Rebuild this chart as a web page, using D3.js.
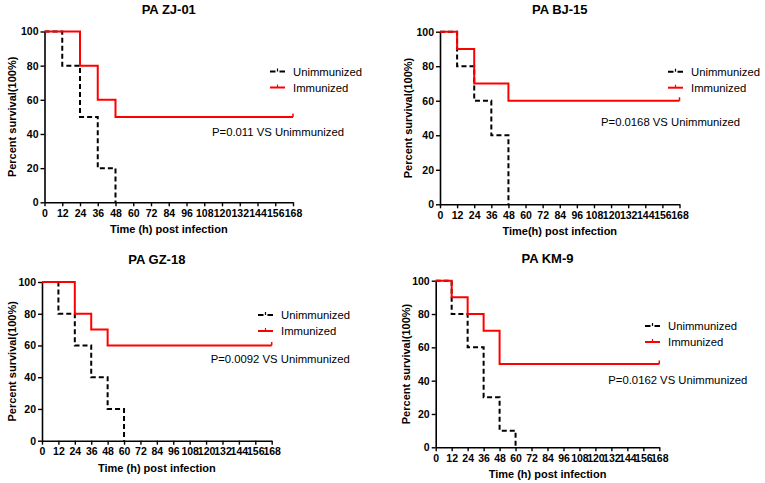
<!DOCTYPE html>
<html>
<head>
<meta charset="utf-8">
<script src="https://cdn.jsdelivr.net/npm/d3@7"></script>
<style>
  body { margin:0; background:#fff; }
  text { font-family: Arial, "Liberation Sans", sans-serif; }
</style>
</head>
<body>
<div id="plot"></div>
<script>
//chart data
var titles = ['PA ZJ-01', 'PA BJ-15', 'PA GZ-18', 'PA KM-9'];
var xTitles = ['Time (h) post infection', 'Time(h) post infection', 'Time (h) post infection', 'Time (h) post infection'];
var pTexts = ['P=0.011 VS Unimmunized', 'P=0.0168 VS Unimmunized', 'P=0.0092 VS Unimmunized', 'P=0.0162 VS Unimmunized'];
var seriesNames = ['Unimmunized', 'Immunized'];
var xTicks = [0, 12, 24, 36, 48, 60, 72, 84, 96, 108, 120, 132, 144, 156, 168];
var yTicks = [0, 20, 40, 60, 80, 100];

//[time, survival after the step]
var unimmZJ = [[0,100],[12,80],[24,50],[36,20],[48,0]];
var immZJ   = [[0,100],[24,80],[36,60],[48,50],[168,50]];
var unimmBJ = [[0,100],[12,80],[24,60],[36,40],[48,0]];
var immBJ   = [[0,100],[12,90],[24,70],[48,60],[168,60]];
var unimmGZ = [[0,100],[12,80],[24,60],[36,40],[48,20],[60,0]];
var immGZ   = [[0,100],[24,80],[36,70],[48,60],[168,60]];
var unimmKM = [[0,100],[12,80],[24,60],[36,30],[48,10],[60,0]];
var immKM   = [[0,100],[12,90],[24,80],[36,70],[48,50],[168,50]];

var unimm = [unimmZJ, unimmBJ, unimmGZ, unimmKM];
var imm = [immZJ, immBJ, immGZ, immKM];

//pixel layout of each panel (plot box, legend, p-value text)
var panels = [
  {l:44.5, r:293, t:31.5, b:202.3, lx:270, ly:71.5, px:212, py:136, yl:12},
  {l:440, r:679.5, t:31.7, b:204.3, lx:668, ly:71.7, px:601, py:126, yl:408},
  {l:42, r:271.7, t:282, b:440.7, lx:258, ly:315, px:210.7, py:363, yl:12},
  {l:435.7, r:659.3, t:280.7, b:447.3, lx:645, ly:326, px:608.3, py:384, yl:406}
];

var svg = d3.select('#plot').append('svg')
    .attr('width', 765)
    .attr('height', 483);

for (var i = 0; i < panels.length; i++){
    var p = panels[i];
    var g = svg.append('g');

    var x = d3.scaleLinear().domain([0,168]).range([p.l, p.r]);
    var y = d3.scaleLinear().domain([0,100]).range([p.b, p.t]);

    var line = d3.line()
        .x(function(d){ return x(d[0]); })
        .y(function(d){ return y(d[1]); })
        .curve(d3.curveStepAfter);

    //x axis
    var xa = g.append('g')
        .attr('transform', 'translate(0,' + p.b + ')')
        .call(d3.axisBottom(x).tickValues(xTicks).tickSize(4).tickPadding(3).tickSizeOuter(0));
    //y axis
    var ya = g.append('g')
        .attr('transform', 'translate(' + p.l + ',0)')
        .call(d3.axisLeft(y).tickValues(yTicks).tickSize(4).tickPadding(2).tickSizeOuter(0));

    [xa, ya].forEach(function(a){
        a.select('.domain').attr('stroke', '#000').attr('stroke-width', 1.6);
        a.selectAll('.tick line').attr('stroke', '#000').attr('stroke-width', 1.4);
        a.selectAll('.tick text')
            .attr('fill', '#000')
            .style('font-size', '10.5px')
            .style('font-weight', 'bold')
            .style('font-family', 'Arial, "Liberation Sans", sans-serif');
    });

    //unimmunized, dashed black
    g.append('path')
        .attr('d', line(unimm[i]))
        .attr('fill', 'none')
        .attr('stroke', '#000')
        .attr('stroke-width', 2)
        .attr('stroke-dasharray', '5,3');

    //immunized, red
    g.append('path')
        .attr('d', line(imm[i]))
        .attr('fill', 'none')
        .attr('stroke', '#f00')
        .attr('stroke-width', 2);

    //censor tick at end of immunized curve
    var last = imm[i][imm[i].length - 1];
    g.append('line')
        .attr('x1', x(last[0])).attr('x2', x(last[0]))
        .attr('y1', y(last[1])).attr('y2', y(last[1]) - 3.5)
        .attr('stroke', '#f00')
        .attr('stroke-width', 1.5);

    //title
    g.append('text')
        .attr('x', (p.l + p.r) / 2)
        .attr('y', p.t - 18)
        .attr('text-anchor', 'middle')
        .style('font-size', '13px')
        .style('font-weight', 'bold')
        .text(titles[i]);

    //axis titles
    g.append('text')
        .attr('x', (p.l + p.r) / 2)
        .attr('y', p.b + 31)
        .attr('text-anchor', 'middle')
        .style('font-size', '11px')
        .style('font-weight', 'bold')
        .text(xTitles[i]);

    g.append('text')
        .attr('transform', 'translate(' + (p.yl + 4) + ',' + ((p.t + p.b) / 2) + ') rotate(-90)')
        .attr('text-anchor', 'middle')
        .style('font-size', '11px')
        .style('font-weight', 'bold')
        .text('Percent survival(100%)');

    //legend
    g.append('line')
        .attr('x1', p.lx).attr('x2', p.lx + 15)
        .attr('y1', p.ly).attr('y2', p.ly)
        .attr('stroke', '#000').attr('stroke-width', 2)
        .attr('stroke-dasharray', '5.5,4,5.5');
    g.append('line')
        .attr('x1', p.lx + 7.5).attr('x2', p.lx + 7.5)
        .attr('y1', p.ly).attr('y2', p.ly - 3)
        .attr('stroke', '#000').attr('stroke-width', 1.2);
    g.append('line')
        .attr('x1', p.lx).attr('x2', p.lx + 15)
        .attr('y1', p.ly + 16).attr('y2', p.ly + 16)
        .attr('stroke', '#f00').attr('stroke-width', 2);
    g.append('line')
        .attr('x1', p.lx + 7.5).attr('x2', p.lx + 7.5)
        .attr('y1', p.ly + 16).attr('y2', p.ly + 13)
        .attr('stroke', '#f00').attr('stroke-width', 1.2);

    for (var k = 0; k < seriesNames.length; k++){
        g.append('text')
            .attr('x', p.lx + 23)
            .attr('y', p.ly + k * 16 + 4)
            .style('font-size', '11.3px')
            .text(seriesNames[k]);
    }

    //p value
    g.append('text')
        .attr('x', p.px)
        .attr('y', p.py)
        .style('font-size', '11.3px')
        .text(pTexts[i]);
}
</script>
</body>
</html>
